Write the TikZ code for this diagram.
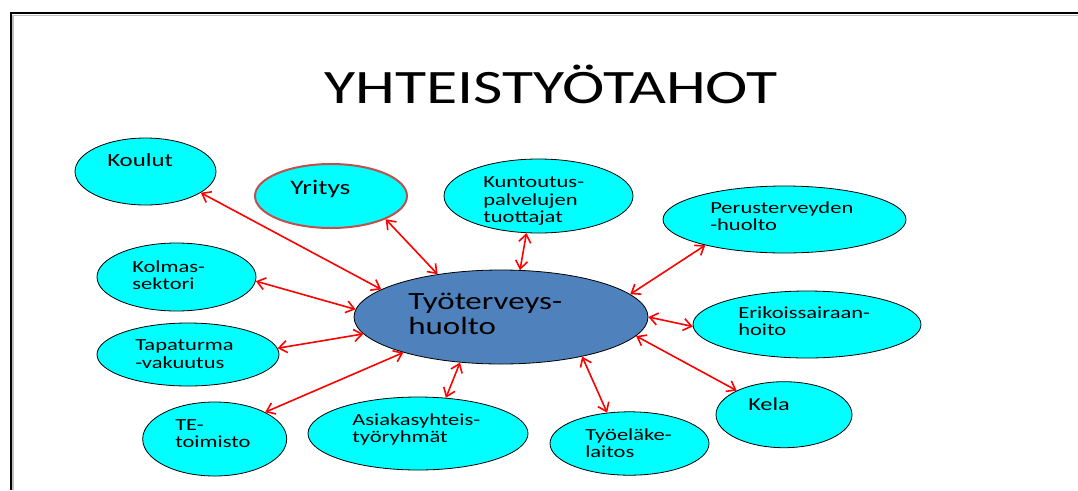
\documentclass[tikz,border=0pt]{standalone}
\usepackage{fontspec}
\setmainfont{Carlito}[FakeStretch=1.33]
\usetikzlibrary{shapes.geometric,arrows.meta}

\definecolor{bubblecyan}{HTML}{00FFFF}
\definecolor{hubblue}{HTML}{4F81BD}
\definecolor{linkred}{HTML}{FF0000}
\definecolor{yritysrim}{HTML}{C0504D}

\begin{document}
\begin{tikzpicture}[x=0.75pt,y=-0.75pt,
  bubble/.style 2 args={ellipse, draw=black, line width=0.6pt, fill=bubblecyan,
    inner sep=0pt, minimum width=#1*1.5pt, minimum height=#2*1.5pt},
  hub/.style 2 args={ellipse, draw=black, line width=0.6pt, fill=hubblue,
    inner sep=0pt, minimum width=#1*1.5pt, minimum height=#2*1.5pt},
  % multi-line labels: the base anchor sits on the last line
  bubbletext/.style={anchor=base west, align=left, inner sep=0pt,
    font=\fontsize{12.7}{13.1}\selectfont},
  link/.style={draw=linkred, line width=1.2pt,
    {Straight Barb[length=6pt,width=9pt]}-{Straight Barb[length=6pt,width=9pt]}}
]
\useasboundingbox (0,0) rectangle (1078,490);
\fill[white] (0,0) rectangle (1078,490);

% slide frame
\draw[gray!50, line width=0.8pt] (13,490) -- (13,15.5) -- (1078,15.5);
\draw[black, line width=1.6pt] (11,490) -- (11,13) -- (1078,13);

% title
\node[anchor=base, inner sep=0pt, font=\fontsize{36}{36}\selectfont] (title) at (551,103) {YHTEISTYÖTAHOT};

% central ellipse
\node[hub={147}{47}] (tth) at (501,317) {};

% surrounding ellipses
\node[bubble={70.5}{33.5}] (koulut) at (145.5,171.5) {};
\node[bubble={76}{32}, draw=yritysrim, line width=1.5pt] (yritys) at (331,196) {};
\node[bubble={94.5}{37}] (kuntoutus) at (538.5,196) {};
\node[bubble={121.5}{33.5}] (perus) at (784.5,219.5) {};
\node[bubble={114}{33.5}] (erikois) at (807,324.5) {};
\node[bubble={79.5}{34}] (kolmas) at (176.5,277) {};
\node[bubble={91}{31.5}] (tapaturma) at (188,354.5) {};
\node[bubble={72}{37}] (te) at (214.7,439) {};
\node[bubble={110}{36.5}] (asiakas) at (418,433.5) {};
\node[bubble={79.5}{31.7}] (elake) at (629.5,443.5) {};
\node[bubble={68}{33}] (kela) at (784,414.7) {};

% texts
\node[bubbletext, font=\fontsize{18.6}{18.75}\selectfont] (tth-t) at (408,334) {Työterveys-\\huolto};
\node[bubbletext, font=\fontsize{14}{14}\selectfont] (koulut-t) at (107,166.7) {Koulut};
\node[bubbletext, font=\fontsize{15.5}{15.5}\selectfont] (yritys-t) at (290,194) {Yritys};
\node[bubbletext] (kuntoutus-t) at (483,222.7) {Kuntoutus-\\palvelujen\\tuottajat};
\node[bubbletext] (perus-t) at (710,230.5) {Perusterveyden\\-huolto};
\node[bubbletext] (erikois-t) at (738,335.5) {Erikoissairaan-\\hoito};
\node[bubbletext] (kolmas-t) at (132,289.5) {Kolmas-\\sektori};
\node[bubbletext] (tapaturma-t) at (135,368.2) {Tapaturma\\-vakuutus};
\node[bubbletext] (te-t) at (175,447.5) {TE-\\toimisto};
\node[bubbletext] (asiakas-t) at (352,442.5) {Asiakasyhteis-\\työryhmät};
\node[bubbletext] (elake-t) at (585,457.5) {Työeläke-\\laitos};
\node[bubbletext, font=\fontsize{13.7}{13.7}\selectfont] (kela-t) at (748,410) {Kela};

% two-way connectors
\draw[link] (koulut.-21.5) -- (tth.167.9);
\draw[link] (yritys.-23.1) -- (tth.146);
\draw[link] (kuntoutus.252.9) -- (tth.68.4);
\draw[link] (perus.198.2) -- (tth.10.5);
\draw[link] (erikois.181.2) -- (tth.0);
\draw[link] (kela.153.2) -- (tth.-8.6);
\draw[link] (elake.126) -- (tth.-26.3);
\draw[link] (asiakas.52.3) -- (tth.228.1);
\draw[link] (te.28.3) -- (tth.200.3);
\draw[link] (tapaturma.4.7) -- (tth.187.3);
\draw[link] (kolmas.-3.3) -- (tth.177.8);
\end{tikzpicture}
\end{document}
